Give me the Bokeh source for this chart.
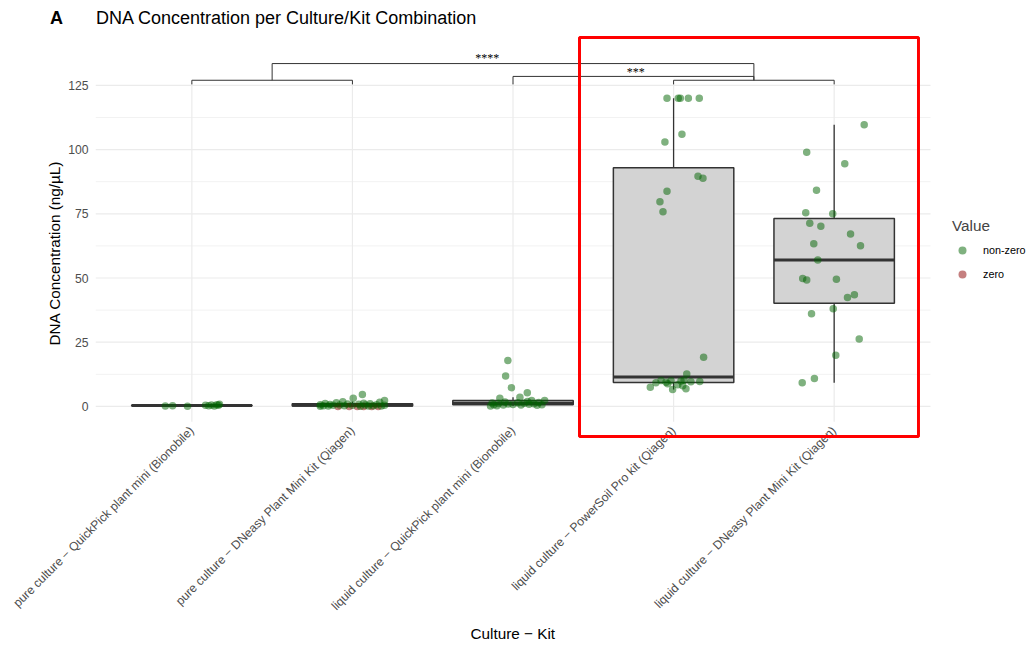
import numpy as np
from bokeh.plotting import figure
from bokeh.layouts import column
from bokeh.models import (FixedTicker, Legend, LegendItem, BoxAnnotation, ColumnDataSource, Div, Title)
from bokeh.embed import file_html
from bokeh.resources import INLINE

# ---------------- data ----------------
title_tag = "A"
title_text = "DNA Concentration per Culture/Kit Combination"
x_title = "Culture \u2212 Kit"
y_title = "DNA Concentration (ng/\u00b5L)"

categories = [
    "pure culture \u2212 QuickPick plant mini (Bionobile)",
    "pure culture \u2212 DNeasy Plant Mini Kit (Qiagen)",
    "liquid culture \u2212 QuickPick plant mini (Bionobile)",
    "liquid culture \u2212 PowerSoil Pro kit (Qiagen)",
    "liquid culture \u2212 DNeasy Plant Mini Kit (Qiagen)",
]

pure_quickpick = [0.2, 0.3, 0.1, 0.4, 0.3, 0.5, 0.2, 0.6, 0.4, 0.8]
pure_quickpick_jitter = [-0.165, -0.12, -0.027, 0.085, 0.105, 0.122, 0.14, 0.155, 0.166, 0.172]

pure_dneasy = [0, 0, 0, 0, 0, 0,
               0.1, 0.1, 0.2, 0.2, 0.2, 0.3, 0.3, 0.3, 0.4, 0.4, 0.4, 0.5, 0.5,
               0.6, 0.6, 0.7, 0.8, 0.9, 1.0, 1.1, 1.2, 1.4, 1.6, 1.8, 2.3, 3.2, 4.6]
pure_dneasy_jitter = [-0.09, -0.02, 0.03, 0.07, 0.12, 0.16,
                      -0.2, 0.05, -0.15, 0.1, 0.18, -0.18, -0.05, 0.13, -0.12, 0.0, 0.2, -0.08, 0.08,
                      -0.2, 0.15, -0.14, 0.04, -0.03, 0.11, -0.17, 0.07, -0.1, 0.17, -0.06, 0.2, 0.005, 0.062]

liquid_quickpick = [0.2, 0.3, 0.4, 0.5, 0.5, 0.6, 0.6, 0.7, 0.8, 0.9, 1.0, 1.1, 1.2, 1.3, 1.4, 1.5, 1.7, 1.9,
                    2.3, 2.3, 3.2, 3.6, 5.3, 7.3, 11.8, 17.9]
liquid_quickpick_jitter = [-0.14, -0.1, 0.15, -0.06, 0.05, 0.18, -0.12, 0.0, 0.1, -0.03, 0.13, -0.09, 0.07, -0.13,
                           0.03, 0.16, -0.05, 0.09, 0.197, 0.116, -0.082, 0.043, 0.089, -0.01, -0.046, -0.032]

liquid_powersoil = [120, 120, 120, 120, 120, 106, 103, 89.6, 88.8, 83.8, 79.7, 75.8, 19.1,
                    12.6, 10.2, 10.1, 10.0, 9.9, 9.7, 9.6, 9.4, 9.2, 8.8, 8.4, 8.0, 7.5, 6.9, 6.6]
liquid_powersoil_jitter = [-0.041, 0.029, 0.042, 0.092, 0.16, 0.052, -0.054, 0.152, 0.183, -0.041, -0.085, -0.066,
                           0.187, 0.082, 0.065, -0.078, -0.016, 0.046, 0.163, 0.108, -0.047, -0.11, -0.037, 0.026,
                           0.057, -0.145, 0.077, -0.006]

liquid_dneasy = [109.7, 99.0, 94.5, 84.2, 75.4, 75.0, 71.3, 70.2, 67.1, 63.3, 62.6, 57.0, 49.8, 49.2, 49.5,
                 43.5, 42.4, 38.0, 36.1, 26.2, 19.9, 10.9, 9.2]
liquid_dneasy_jitter = [0.187, -0.171, 0.066, -0.11, -0.177, -0.009, -0.152, -0.083, 0.102, -0.127, 0.164, -0.102,
                        -0.196, -0.171, 0.014, 0.126, 0.083, -0.006, -0.141, 0.156, 0.01, -0.123, -0.199]

group_values = [pure_quickpick, pure_dneasy, liquid_quickpick, liquid_powersoil, liquid_dneasy]
group_jitter = [pure_quickpick_jitter, pure_dneasy_jitter, liquid_quickpick_jitter,
                liquid_powersoil_jitter, liquid_dneasy_jitter]

y_ticks = [0, 25, 50, 75, 100, 125]
y_minor = [12.5, 37.5, 62.5, 87.5, 112.5]

# significance annotations
sub_brackets = [(1, 2), (4, 5)]
sub_level, tip_level = 127.0, 125.4
sig_top = dict(x0=1.5, x1=4.5, level=133.5, label="****", label_x=2.84)
sig_mid = dict(x0=3.0, x1=4.5, level=128.5, label="***", label_x=3.765)

# highlighted region (groups 4-5)
highlight = dict(left=3.414, right=5.525, top=143.7, bottom=-11.7)

# ---------------- figure ----------------
FONT = "Liberation Sans"
all_vals = np.concatenate([np.asarray(v, float) for v in group_values])
ymax = all_vals.max()
panel_lo, panel_hi = -0.05 * ymax, ymax * 1.05
panel_x = (0.4, 5.6)

PX_X, PX_Y = 160.58, 2.568          # pixels per data unit
FW, FH = 931, 407
x0 = 0.4
y0 = -12.5
p = figure(frame_width=FW, frame_height=FH,
           x_range=(x0, x0 + FW / PX_X), y_range=(y0, y0 + FH / PX_Y),
           output_backend="svg", toolbar_location=None,
           min_border_left=95, min_border_right=0, min_border_top=0, min_border_bottom=0,
           background_fill_color="white", border_fill_color="white", outline_line_color=None)

p.xgrid.grid_line_color = None
p.ygrid.grid_line_color = None

# grid lines restricted to the ggplot panel
p.segment(x0=[panel_x[0]] * len(y_minor), x1=[panel_x[1]] * len(y_minor), y0=y_minor, y1=y_minor,
          line_color="#F2F2F2", line_width=1)
p.segment(x0=[panel_x[0]] * len(y_ticks), x1=[panel_x[1]] * len(y_ticks), y0=y_ticks, y1=y_ticks,
          line_color="#EBEBEB", line_width=1.2)
xs = list(range(1, len(categories) + 1))
p.segment(x0=xs, x1=xs, y0=[panel_lo] * len(xs), y1=[panel_hi] * len(xs),
          line_color="#EBEBEB", line_width=1.2)

# box plots
q1s, meds, q3s, los, his = [], [], [], [], []
for vals in group_values:
    v = np.asarray(vals, float)
    q1, med, q3 = np.percentile(v, [25, 50, 75])
    iqr = q3 - q1
    q1s.append(q1); meds.append(med); q3s.append(q3)
    los.append(v[v >= q1 - 1.5 * iqr].min())
    his.append(v[v <= q3 + 1.5 * iqr].max())
box_w = 0.75
bsrc = ColumnDataSource(dict(x=xs, left=[x - box_w / 2 for x in xs], right=[x + box_w / 2 for x in xs],
                             q1=q1s, med=meds, q3=q3s, lo=los, hi=his))
p.segment(x0="x", x1="x", y0="q3", y1="hi", source=bsrc, line_color="#333333", line_width=1.3)
p.segment(x0="x", x1="x", y0="q1", y1="lo", source=bsrc, line_color="#333333", line_width=1.3)
p.quad(left="left", right="right", bottom="q1", top="q3", source=bsrc,
       fill_color="#D3D3D3", line_color="#333333", line_width=1.5)
p.segment(x0="left", x1="right", y0="med", y1="med", source=bsrc, line_color="#333333", line_width=3)

# points
px, py, zx, zy = [], [], [], []
for i, (vals, jit) in enumerate(zip(group_values, group_jitter)):
    for v, j in zip(vals, jit):
        if v == 0:
            zx.append(i + 1 + j); zy.append(v)
        else:
            px.append(i + 1 + j); py.append(v)
r_zero = p.scatter(zx, zy, size=7.5, fill_color="#8B0000", fill_alpha=0.5, line_color=None)
r_nz = p.scatter(px, py, size=7.5, fill_color="#006400", fill_alpha=0.5, line_color=None)

# significance brackets
bx, by = [], []
for a, b in sub_brackets:
    bx.append([a, a, b, b]); by.append([tip_level, sub_level, sub_level, tip_level])
bx.append([sig_top["x0"], sig_top["x0"], sig_top["x1"], sig_top["x1"]])
by.append([sub_level, sig_top["level"], sig_top["level"], sub_level])
bx.append([sig_mid["x0"], sig_mid["x0"], sig_mid["x1"], sig_mid["x1"]])
by.append([tip_level, sig_mid["level"], sig_mid["level"], sub_level])
p.multi_line(bx, by, line_color="#333333", line_width=1)
p.text(x=[sig_top["label_x"], sig_mid["label_x"]], y=[sig_top["level"] + 2.0, sig_mid["level"] + 1.8],
       text=[sig_top["label"], sig_mid["label"]], text_align="center", text_baseline="alphabetic",
       text_font_size="12px", text_color="black", text_font=FONT)

# highlight box
p.add_layout(BoxAnnotation(left=highlight["left"], right=highlight["right"],
                           top=highlight["top"], bottom=highlight["bottom"],
                           fill_alpha=0, line_color="#FF0000", line_alpha=1, line_width=3))

# axes
p.yaxis.ticker = FixedTicker(ticks=y_ticks, minor_ticks=[])
p.xaxis.ticker = FixedTicker(ticks=xs, minor_ticks=[])
p.xaxis.major_label_overrides = {i + 1: c for i, c in enumerate(categories)}
p.xaxis.major_label_orientation = np.pi / 4
for ax in (p.xaxis, p.yaxis):
    ax.axis_line_color = None
    ax.major_tick_line_color = None
    ax.minor_tick_line_color = None
    ax.major_tick_out = 0
    ax.major_tick_in = 0
    ax.major_label_text_font = FONT
    ax.major_label_text_color = "#4D4D4D"
    ax.major_label_text_font_size = "12.2px"
p.yaxis.major_label_standoff = 7
p.xaxis.major_label_standoff = -10

# axis titles centred on the ggplot panel (not on the extended frame)
p.add_layout(Title(text=x_title, align="left", offset=375, text_font=FONT, text_font_size="15.3px",
                   text_font_style="normal", text_color="black", standoff=4), "below")
p.add_layout(Title(text=y_title, align="left", offset=93, text_font=FONT, text_font_size="15.3px",
                   text_font_style="normal", text_color="black", standoff=6), "left")

# legend (inside the extended frame, right of the panel)
legend = Legend(items=[LegendItem(label="non-zero", renderers=[r_nz]),
                       LegendItem(label="zero", renderers=[r_zero])],
                title="Value", location=(857, 154), orientation="vertical",
                border_line_color=None, background_fill_alpha=0,
                title_text_font=FONT, title_text_font_size="15.3px", title_text_font_style="normal",
                label_text_font=FONT, label_text_font_size="10.8px", label_text_color="black",
                glyph_width=20, glyph_height=20, spacing=4, padding=0, margin=0, title_standoff=5,
                label_standoff=11)
p.add_layout(legend)

# title row
title_div = Div(
    text=(f'<div style="position:relative;width:1026px;height:31px;font-family:\'{FONT}\';color:black;">'
          f'<span style="position:absolute;left:50px;top:9px;font-size:18px;line-height:18px;'
          f'font-weight:bold;">{title_tag}</span>'
          f'<span style="position:absolute;left:96px;top:9px;font-size:18px;line-height:18px;">'
          f'{title_text}</span></div>'),
    width=1026, height=31, margin=(0, 0, 0, 0))

layout = column(title_div, p, spacing=0)
open("out.html", "w").write(file_html(layout, INLINE))
